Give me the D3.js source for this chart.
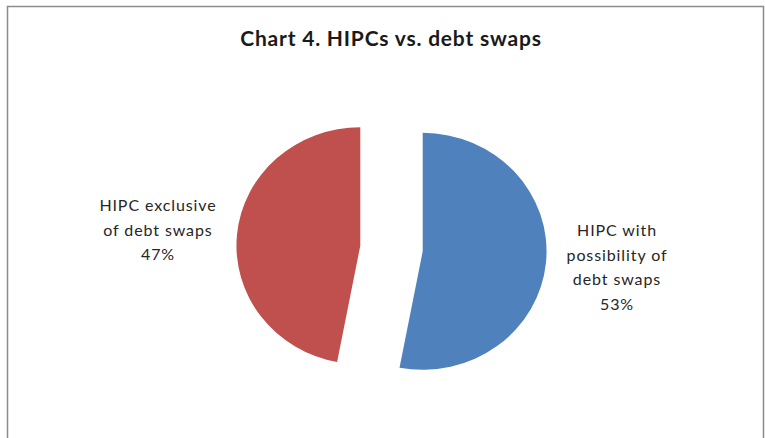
<!DOCTYPE html>
<html>
<head>
<meta charset="utf-8">
<script src="https://cdn.jsdelivr.net/npm/d3@7"></script>
<style>
  html, body { margin: 0; padding: 0; background: #ffffff; }
  svg { display: block; }
</style>
</head>
<body>
<svg id="chart" width="765" height="438"></svg>
<script>
const title = "Chart 4. HIPCs vs. debt swaps";
const categories = ["HIPC with possibility of debt swaps", "HIPC exclusive of debt swaps"];
const labelLines = [["HIPC with", "possibility of", "debt swaps"], ["HIPC exclusive", "of debt swaps"]];
const values = [53, 47];
const colors = ["#4F81BD", "#C0504D"];

const svg = d3.select("#chart");
const W = 765, H = 438;

// frame
svg.append("rect").attr("x", 0).attr("y", 0).attr("width", W).attr("height", H).attr("fill", "#fff");
svg.append("path")
  .attr("d", `M7.5,${H} V6.5 H${W - 1.5} V${H}`)
  .attr("fill", "none").attr("stroke", "#8c8c8c").attr("stroke-width", 1.5);

// title
svg.append("text")
  .attr("x", 391).attr("y", 46)
  .attr("text-anchor", "middle")
  .attr("font-family", "Lato, 'Open Sans', sans-serif")
  .attr("font-weight", "bold")
  .attr("font-size", 21)
  .attr("letter-spacing", 0.8)
  .attr("fill", "#1a1a1a")
  .text(title);

const cx = 391.5, cy = 248.5, r = 118.5, sx = 1.045, explode = 30;
const pie = d3.pie().sort(null).value(d => d)(values);
const arc = d3.arc().innerRadius(0).outerRadius(r);

const g = svg.append("g").attr("transform", `translate(${cx},${cy}) scale(${sx},1)`);
g.selectAll("path.slice").data(pie).enter().append("path")
  .attr("class", "slice")
  .attr("transform", d => {
    const m = (d.startAngle + d.endAngle) / 2;
    return `translate(${explode * Math.sin(m)},${-explode * Math.cos(m)})`;
  })
  .attr("d", arc)
  .attr("fill", (d, i) => colors[i])
  .attr("stroke", "none");

// labels
const labelPos = [{x: 617, y: 236}, {x: 158, y: 211}];
const lh = 24.5;
pie.forEach((d, i) => {
  const lines = labelLines[i].concat([values[i] + "%"]);
  const t = svg.append("text")
    .attr("text-anchor", "middle")
    .attr("font-family", "Lato, 'Open Sans', sans-serif")
    .attr("font-size", 16)
    .attr("letter-spacing", 0.9)
    .attr("fill", "#262626");
  lines.forEach((ln, k) => {
    t.append("tspan").attr("x", labelPos[i].x).attr("y", labelPos[i].y + k * lh).text(ln);
  });
});
</script>
</body>
</html>
